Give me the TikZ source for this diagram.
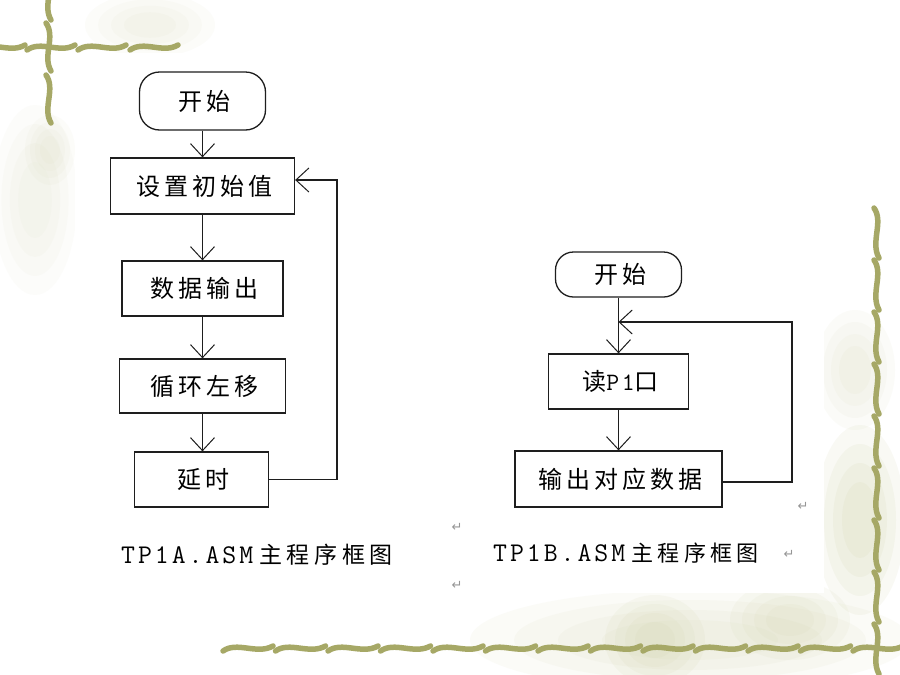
\documentclass[tikz,border=0pt]{standalone}
\usepackage{fontspec}
\newfontfamily\cjk[LetterSpace=16]{Noto Sans CJK SC}
\newfontfamily\cjkcap[LetterSpace=20]{Noto Sans CJK SC}
\newfontfamily\lmono[LetterSpace=11]{Latin Modern Mono}
\newfontfamily\djv{DejaVu Sans}
\usetikzlibrary{arrows.meta}
\definecolor{olivew}{RGB}{166,168,102}
\definecolor{ink}{RGB}{30,30,30}
\definecolor{blobc}{RGB}{206,208,165}
\definecolor{markc}{RGB}{150,150,150}
\newcommand{\softblob}[5]{%
  \foreach \s in {1,0.8,0.6,0.4}{
    \fill[blobc, opacity=#5] (#1,#2) ellipse [x radius={#3*\s}, y radius={#4*\s}];
  }}
\begin{document}
\begin{tikzpicture}[x=1pt,y=-1pt,
  wave/.style={draw=olivew, line width=5.5pt, line cap=round},
  box/.style={draw=ink, line width=1.3pt, inner sep=0pt, font=\fontsize{24}{24}\cjk},
  term/.style={box, rounded corners=20pt},
  arr/.style={draw=ink, line width=1.2pt, -{Straight Barb[length=13pt,width=24pt,line width=1pt]}},
  captxt/.style={anchor=west, inner sep=0pt},
  pmark/.style={text=markc, font=\fontsize{13}{13}\djv, inner sep=0pt}
]
\useasboundingbox (0,0) rectangle (900,675);
\fill[white] (0,0) rectangle (900,675);

% faint floral background
\softblob{150}{25}{65}{32}{0.06}
\softblob{35}{200}{42}{95}{0.05}
\softblob{50}{150}{25}{35}{0.06}
\softblob{690}{640}{220}{50}{0.08}
\softblob{655}{640}{50}{45}{0.10}
\softblob{790}{620}{60}{40}{0.09}
\softblob{860}{520}{45}{95}{0.12}
\softblob{855}{370}{40}{60}{0.07}

% white panels
\fill[white] (75,53) rectangle (495,600);
\fill[white] (490,210) rectangle (824,593);

% decorative waves
\foreach \k in {0,...,12}{
  \pgfmathsetmacro{\x}{223+52.5*\k}
  \draw[wave] (\x,651) .. controls ({\x+14},641) and ({\x+34},655) .. ({\x+50},646);
}
\foreach \k in {0,...,8}{
  \pgfmathsetmacro{\y}{208+52*\k}
  \draw[wave] (874,\y) .. controls (884,{\y+14}) and (870,{\y+34}) .. (879,{\y+50});
}
\foreach \x in {-23,27,78,130}{
  \draw[wave] (\x,50) .. controls ({\x+14},40) and ({\x+33},54) .. ({\x+48},45);
}
\foreach \y in {-28,23,75}{
  \draw[wave] (46,\y) .. controls (56,{\y+14}) and (42,{\y+33}) .. (51,{\y+48});
}

% left flowchart
\node[term, minimum width=126pt, minimum height=58pt] (s1) at (202.5,101) {开始\kern-4pt};
\node[box, minimum width=184pt, minimum height=56pt] (a1) at (202.5,186) {设置初始值\kern-4pt};
\node[box, minimum width=161pt, minimum height=55pt] (a2) at (202.5,288.5) {数据输出\kern-4pt};
\node[box, minimum width=166pt, minimum height=54pt] (a3) at (202.5,386) {循环左移\kern-4pt};
\node[box, minimum width=134pt, minimum height=55pt] (a4) at (201.5,479.5) {延时\kern-4pt};
\coordinate (c1) at (337,180);
\draw[arr] (s1.south) -- (a1.north);
\draw[arr] (a1.south) -- (a2.north);
\draw[arr] (a2.south) -- (a3.north);
\draw[arr] (a3.south) -- (a3.south |- a4.north);
\draw[arr] (a4.east) -| (c1) -- (a1.east |- c1);

% right flowchart
\node[term, rounded corners=18pt, minimum width=126pt, minimum height=45pt] (s2) at (618.5,274.5) {开始\kern-4pt};
\node[box, minimum width=140pt, minimum height=55pt] (b1) at (618.5,381.5) {读{\fontsize{25}{25}\lmono P1}口\kern-4pt};
\node[box, minimum width=207pt, minimum height=56pt] (b2) at (618.5,479) {输出对应数据\kern-4pt};
\coordinate (c2) at (792,322);
\coordinate (j2) at (618.5,322);
\draw[arr] (s2.south) -- (b1.north);
\draw[arr] (b1.south) -- (b2.north);
\draw[arr] ([yshift=-3pt]b2.east) -| (c2) -- (j2);

% captions
\node[captxt] (t1) at (121,555) {{\fontsize{27}{27}\lmono TP1A.ASM}\kern6pt{\fontsize{23}{23}\cjkcap 主程序框图}};
\node[captxt] (t2) at (493,553) {{\fontsize{27}{27}\lmono TP1B.ASM}\kern6pt{\fontsize{22}{22}\cjkcap 主程序框图}};

% paragraph marks
\node[pmark] (p1) at (457,527) {↵};
\node[pmark] (p2) at (457,585) {↵};
\node[pmark] (p3) at (803,506) {↵};
\node[pmark] (p4) at (789,554) {↵};
\end{tikzpicture}
\end{document}
